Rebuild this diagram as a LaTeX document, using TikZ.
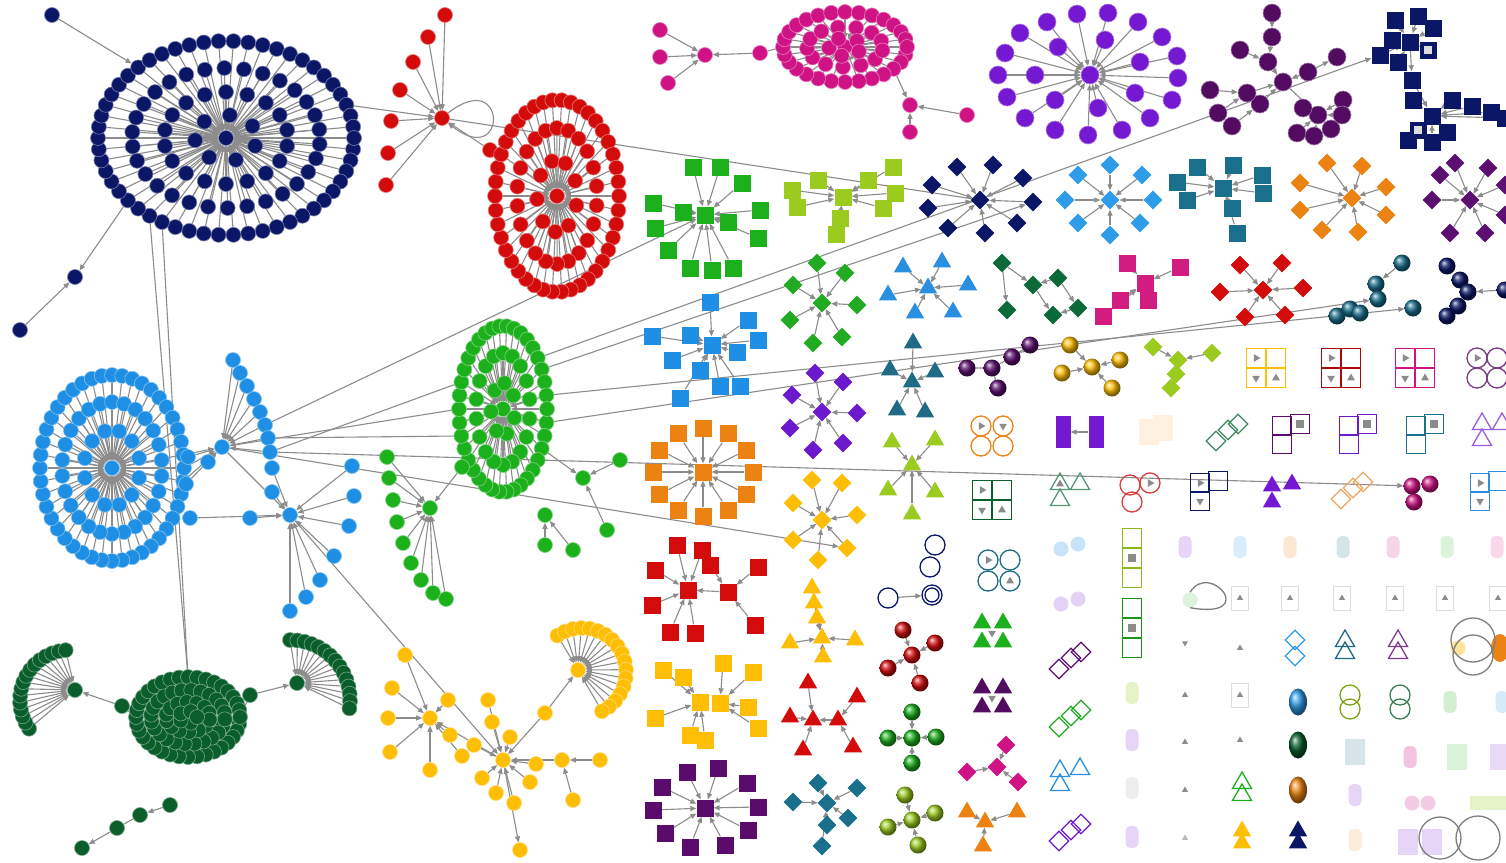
\documentclass[tikz,border=0pt]{standalone}
\usetikzlibrary{arrows.meta,shapes.geometric}
\pgfdeclarelayer{bg}
\pgfsetlayers{bg,main}
\definecolor{ceg}{HTML}{8C8C8C}
\definecolor{cnv}{HTML}{0B1667}
\definecolor{crd}{HTML}{D40B0B}
\definecolor{cmg}{HTML}{CF1385}
\definecolor{cpu}{HTML}{7418D2}
\definecolor{cdp}{HTML}{520B60}
\definecolor{clb}{HTML}{1E8FE4}
\definecolor{cgr}{HTML}{1CB01C}
\definecolor{cdg}{HTML}{0A5E2C}
\definecolor{cyl}{HTML}{FFBE06}
\definecolor{clm}{HTML}{9CCB20}
\definecolor{ctl}{HTML}{1A6F8C}
\definecolor{cog}{HTML}{EB8212}
\definecolor{cpd}{HTML}{5C0F70}
\definecolor{cbd}{HTML}{2E9CE8}
\definecolor{cgd}{HTML}{22AA22}
\definecolor{cdgd}{HTML}{0C6A3A}
\definecolor{cms}{HTML}{D21C80}
\definecolor{cps}{HTML}{5A0B6C}
\definecolor{cbt}{HTML}{2A8FE0}
\definecolor{cdt}{HTML}{1F6A85}
\definecolor{cpud}{HTML}{6A1ACC}
\tikzset{
  ed/.style={draw=ceg, line width=1.1pt, -{Triangle[length=6pt,width=5pt]}},
  ln/.style={draw=ceg, line width=1.1pt},
  cdot/.style={circle, fill=#1, draw=#1!55!white, line width=0.6pt, inner sep=0pt, minimum size=15pt},
  fdot/.style={circle, fill=#1, inner sep=0pt, minimum size=15pt},
  sqn/.style={rectangle, fill=#1, inner sep=0pt, minimum size=17pt},
  dmd/.style={diamond, fill=#1, inner sep=0pt, minimum size=19pt},
  trn/.style={regular polygon, regular polygon sides=3, fill=#1, inner sep=0pt, minimum size=21pt},
  bal/.style={circle, ball color=#1, inner sep=0pt, minimum size=17pt},
  osq/.style={rectangle, draw=#1, line width=1.3pt, inner sep=0pt, minimum size=19pt},
  ocir/.style={circle, draw=#1, line width=1.3pt, inner sep=0pt, minimum size=20pt},
  odmd/.style={diamond, draw=#1, line width=1.3pt, inner sep=0pt, minimum size=20pt},
  otri/.style={regular polygon, regular polygon sides=3, draw=#1, line width=1.3pt, inner sep=0pt, minimum size=22pt},
  gtri/.style={regular polygon, regular polygon sides=3, fill=ceg, inner sep=0pt, minimum size=9pt},
  gsq/.style={rectangle, fill=ceg, inner sep=0pt, minimum size=8pt},
  cap/.style={rectangle, rounded corners=5pt, fill=#1, inner sep=0pt, minimum width=13pt, minimum height=22pt},
  bcap/.style={ellipse, ball color=#1, inner sep=0pt, minimum width=18pt, minimum height=27pt},
  fbox/.style={rectangle, draw=#1, line width=0.6pt, inner sep=0pt, minimum width=17pt, minimum height=24pt},
  fsq/.style={rectangle, fill=#1, inner sep=0pt, minimum width=20pt, minimum height=26pt},
  loopc/.style={draw=ceg!90!black, line width=1.3pt},
  bigdot/.style={cdot=#1, minimum size=18pt},
}
\gdef\edgelist{}
\newcommand\addedge[2]{\xdef\edgelist{\unexpanded\expandafter{\edgelist}\noexpand\draw[ed] (#1) -- (#2);}}
\newcommand\bgdraw[1]{\xdef\edgelist{\unexpanded\expandafter{\edgelist}\unexpanded{#1}}}
\newcommand\ringof[8]{%
  \foreach \k in {1,...,#5}{%
    \path (#1) ++({#6*cos(360/#5*\k+#8)},{#7*sin(360/#5*\k+#8)}) node[#3=#4] (#1#2\k) {};
    \addedge{#1#2\k}{#1}%
  }}
\newcommand\leaves[4]{%
  \foreach \a/\b [count=\k] in {#4}{%
    \node[#2=#3] (#1-\k) at (\a,\b) {};
    \addedge{#1-\k}{#1}%
  }}
\newcommand\groupof[6]{%
  \foreach \dx/\dy [count=\k] in {#6}{%
    \node[#4=#5] (#1\k) at ({#2+(\dx)},{#3+(\dy)}) {};}}
\newcommand\gridsq[4]{%
  \groupof{#1}{#2}{#3}{osq}{#4}{-10/-10,10/-10,-10/10,10/10}%
  \node[gtri,rotate=-90] at (#11) {};\node[gtri,rotate=180] at (#13) {};\node[gtri] at (#14) {};}
\begin{document}
\begin{tikzpicture}[x=1pt,y=-1pt]
\useasboundingbox (0,0) rectangle (1506,862);

% ===== navy big cluster
\node[cdot=cnv] (nv) at (226,138) {};
\ringof{nv}{a}{cdot}{cnv}{54}{128}{97}{0}
\ringof{nv}{b}{cdot}{cnv}{30}{94}{70}{5}
\ringof{nv}{c}{cdot}{cnv}{18}{62}{46}{10}
\ringof{nv}{d}{cdot}{cnv}{7}{31}{23}{20}
\node[cdot=cnv] (nv0) at (52,15) {};
\node[cdot=cnv] (nv1) at (75,277) {};
\node[cdot=cnv] (nv2) at (20,330) {};

% ===== red star
\node[cdot=crd] (rs) at (442,118) {};
\leaves{rs}{cdot}{crd}{445/15,428/37,413/62,400/90,391/121,388/153,386/185,490/150}
\draw[ed] (rs.40) .. controls (508,66) and (508,170) .. (rs.-40);

% ===== red big
\node[cdot=crd] (rb) at (557,196) {};
\ringof{rb}{a}{cdot}{crd}{42}{62}{96}{0}
\ringof{rb}{b}{cdot}{crd}{22}{40}{68}{8}
\ringof{rb}{c}{cdot}{crd}{9}{20}{36}{15}

% ===== magenta
\node[cdot=cmg] (mg) at (845,47) {};
\ringof{mg}{a}{cdot}{cmg}{28}{62}{35}{0}
\ringof{mg}{b}{cdot}{cmg}{13}{38}{20}{10}
\ringof{mg}{c}{cdot}{cmg}{5}{16}{9}{30}
\node[cdot=cmg] (mg1) at (760,53) {};
\node[cdot=cmg] (mg2) at (705,55) {};
\leaves{mg2}{cdot}{cmg}{660/30,660/57,668/83}
\node[cdot=cmg] (mg3) at (910,105) {};
\node[cdot=cmg] (mg4) at (967,115) {};
\node[cdot=cmg] (mg5) at (910,132) {};
\bgdraw{\draw[ln] (mga14) -- (mg1); \draw[ed] (mg1) -- (mg2);
\draw[ed] (mga3) -- (mg3); \draw[ed] (mg4) -- (mg3); \draw[ed] (mg5) -- (mg3);}

% ===== purple
\node[bigdot=cpu] (pu) at (1090,75) {};
\leaves{pu}{bigdot}{cpu}{1047/22,1077/14,1108/13,1138/22,1162/37,1177/56,1178/78,1172/100,1150/118,1122/130,1088/135,1055/130,1025/118,1007/97,998/75,1005/53,1020/33,1058/47,1105/40,1140/62,1035/75,1135/93,1055/100,1098/108}

% ===== dark purple tree
\node[bigdot=cdp] (dp) at (1283,82) {};
\leaves{dp}{bigdot}{cdp}{1268/62,1308/72,1260/104,1247/93}
\node[bigdot=cdp] (dpx1) at (1272,13) {};
\node[bigdot=cdp] (dpx2) at (1272,37) {};
\node[bigdot=cdp] (dpx3) at (1240,50) {};
\node[bigdot=cdp] (dpx4) at (1337,57) {};
\node[bigdot=cdp] (dpx5) at (1210,90) {};
\node[bigdot=cdp] (dpx6) at (1218,113) {};
\node[bigdot=cdp] (dpx7) at (1232,126) {};
\node[bigdot=cdp] (dpB) at (1318,115) {};
\leaves{dpB}{bigdot}{cdp}{1343/100,1342/115,1331/129,1297/133,1314/136,1303/108}
\bgdraw{\draw[ed] (dpx1) -- (dpx2); \draw[ed] (dpx2) -- (dp-1); \draw[ed] (dpx3) -- (dp-1);
\draw[ed] (dp-2) -- (dpx4); \draw[ed] (dpx5) -- (dp-4); \draw[ed] (dpx6) -- (dp-4);
\draw[ed] (dpx7) -- (dp-3); \draw[ed] (dp) -- (dpB);}

% ===== navy squares
\node[sqn=cnv] (nsA) at (1410,42) {};
\leaves{nsA}{sqn}{cnv}{1395/20,1418/16,1433/28,1392/40,1380/55,1398/62,1428/50}
\node[sqn=cnv] (nsM) at (1412,80) {};
\node[sqn=cnv] (nsB) at (1432,116) {};
\leaves{nsB}{sqn}{cnv}{1413/100,1452/100,1472/106,1491/112,1505/118,1418/130,1447/132,1408/140,1432/142}
\node[gsq,fill=white!70!ceg] at (nsA-7) {};
\node[gsq,fill=white!70!ceg] at (nsB-6) {};
\bgdraw{\draw[ed] (nsA) -- (nsM); \draw[ed] (nsM) -- (nsB);}

% ===== row 2
\node[sqn=cgr] (gs) at (705,215) {};
\leaves{gs}{sqn}{cgr}{693/167,720/167,742/183,760/210,758/238,733/268,712/270,690/268,668/250,655/228,653/203,683/212,728/222}
\node[sqn=clm] (ls) at (843,197) {};
\leaves{ls}{sqn}{clm}{792/190,797/207,818/180,840/218,836/234,868/180,893/167,895/193,883/208}
\node[dmd=cnv] (nd) at (980,200) {};
\leaves{nd}{dmd}{cnv}{957/167,993/165,1023/178,1033/202,1017/223,985/233,948/228,928/208,932/185}
\node[dmd=cbd] (bd) at (1110,200) {};
\leaves{bd}{dmd}{cbd}{1110/165,1142/175,1153/200,1140/223,1110/235,1078/223,1065/200,1078/175}
\node[sqn=ctl] (tq) at (1223,188) {};
\leaves{tq}{sqn}{ctl}{1197/167,1177/182,1187/200,1233/165,1262/175,1263/193,1232/208,1237/233}
\node[dmd=cog] (od) at (1352,198) {};
\leaves{od}{dmd}{cog}{1327/163,1362/166,1386/187,1386/215,1358/232,1322/230,1300/210,1300/183}
\node[dmd=cpd] (pdd) at (1470,200) {};
\leaves{pdd}{dmd}{cpd}{1455/163,1488/168,1505/185,1505/215,1485/233,1450/233,1432/200,1440/175}

% ===== row 3
\node[sqn=clb] (bq) at (712,345) {};
\leaves{bq}{sqn}{clb}{710/302,748/320,652/336,690/335,737/352,758/340,672/360,700/370,720/386,740/386,680/398}
\node[dmd=cgd] (gd) at (822,303) {};
\leaves{gd}{dmd}{cgd}{817/263,845/273,857/305,842/337,813/343,790/320,793/285}
\node[trn=cbt] (bt) at (928,288) {};
\leaves{bt}{trn}{cbt}{903/267,942/262,968/285,953/312,915/313,888/295}
\node[dmd=cdgd] (dgd1) at (1002,263) {};
\node[dmd=cdgd] (dgd2) at (1007,310) {};
\node[dmd=cdgd] (dgd3) at (1033,285) {};
\node[dmd=cdgd] (dgd4) at (1058,278) {};
\node[dmd=cdgd] (dgd5) at (1053,315) {};
\node[dmd=cdgd] (dgd6) at (1078,308) {};
\draw[ed] (dgd1) -- (dgd2); \draw[ed] (dgd1) -- (dgd3); \draw[ed] (dgd3) -- (dgd5);
\draw[ed] (dgd4) -- (dgd3); \draw[ed] (dgd4) -- (dgd6); \draw[ed] (dgd6) -- (dgd5);
\node[sqn=cms] (ms) at (1145,283) {};
\leaves{ms}{sqn}{cms}{1127/263,1180/267,1148/300,1120/300,1103/316}
\node[dmd=crd] (rdd) at (1263,290) {};
\leaves{rdd}{dmd}{crd}{1240/265,1282/263,1303/288,1285/315,1245/317,1220/292}
\node[bal=ctl] (tsp1) at (1402,263) {};
\node[bal=ctl] (tsp2) at (1376,284) {};
\node[bal=ctl] (tsp3) at (1378,299) {};
\node[bal=ctl] (tsp4) at (1413,308) {};
\node[bal=ctl] (tsp5) at (1337,316) {};
\node[bal=ctl] (tsp6) at (1350,309) {};
\node[bal=ctl] (tsp7) at (1360,313) {};
\bgdraw{\draw[ed] (tsp1) -- (tsp2);}
\node[bal=cnv] (nsp1) at (1447,266) {};
\node[bal=cnv] (nsp2) at (1460,280) {};
\node[bal=cnv] (nsp3) at (1468,292) {};
\node[bal=cnv] (nsp4) at (1458,306) {};
\node[bal=cnv] (nsp5) at (1447,316) {};
\node[bal=cnv] (nsp6) at (1505,290) {};
\bgdraw{\draw[ed] (nsp6) -- (nsp3);}

% ===== row 4
\node[trn=cdt] (dtt) at (912,382) {};
\leaves{dtt}{trn}{cdt}{913/343,890/370,935/372,897/410,925/412}
\node[dmd=cpud] (pud) at (822,412) {};
\leaves{pud}{dmd}{cpud}{815/373,843/382,857/413,843/443,813/450,790/428,792/395}
\node[bal=cpd] (ps1) at (967,368) {};
\node[bal=cpd] (ps2) at (992,368) {};
\node[bal=cpd] (ps3) at (1012,357) {};
\node[bal=cpd] (ps4) at (1030,345) {};
\node[bal=cpd] (ps5) at (998,388) {};
\bgdraw{\draw[ln] (ps1) -- (ps2) -- (ps3) -- (ps4); \draw[ln] (ps2) -- (ps5);}
\node[bal=cyl] (ys) at (1092,367) {};
\leaves{ys}{bal}{cyl}{1070/345,1062/373,1120/360,1112/388}
\node[dmd=clm] (ld1) at (1153,347) {};
\node[dmd=clm] (ld2) at (1178,360) {};
\node[dmd=clm] (ld3) at (1212,353) {};
\node[dmd=clm] (ld4) at (1176,374) {};
\node[dmd=clm] (ld5) at (1171,388) {};
\bgdraw{\draw[ed] (ld1) -- (ld2); \draw[ed] (ld3) -- (ld2); \draw[ln] (ld2) -- (ld4) -- (ld5);}
\gridsq{gY}{1266}{368}{cyl}
\gridsq{gR}{1341}{368}{crd!80!black}
\gridsq{gM}{1415}{368}{cmg}
\groupof{gC}{1487}{368}{ocir}{cdp!80}{-10/-10,10/-10,-10/10,10/10}
\node[gtri,rotate=-90] at (gC1) {};

% ===== row 5
\groupof{oc}{992}{435}{ocir}{cog}{-11/-9,11/-9,-11/11,11/11}
\node[gtri,rotate=-90] at (oc1) {};\node[gtri,rotate=180] at (oc2) {};
\node[rectangle, fill=cpu, inner sep=0pt, minimum width=15pt, minimum height=32pt] (pr1) at (1063,432) {};
\node[rectangle, fill=cpu, inner sep=0pt, minimum width=15pt, minimum height=32pt] (pr2) at (1096,432) {};
\draw[ed] (pr2) -- (pr1);
\groupof{bgx}{1155}{432}{fsq}{orange!12}{-6/0,8/-4}
\groupof{gdo}{1225}{432}{odmd}{cdgd!80}{-9/9,3/-2,13/-8}
\groupof{pqa}{1290}{433}{osq}{cps}{-8/-7,10/-9,-8/11}
\node[gsq] at (pqa2) {};
\groupof{pqb}{1357}{433}{osq}{cpud}{-8/-7,10/-9,-8/11}
\node[gsq] at (pqb2) {};
\groupof{pqc}{1424}{433}{osq}{ctl}{-8/-7,10/-9,-8/11}
\node[gsq] at (pqc2) {};
\groupof{ptr}{1490}{430}{otri}{cpud!70}{-8/-6,12/-6,-8/10}

% ===== row 6
\gridsq{gG}{992}{500}{cdg}
\groupof{gto}{1068}{490}{otri}{cdgd!70}{-8/-6,12/-6,-8/10}
\node[gtri] at (gto1) {};
\groupof{rco}{1138}{490}{ocir}{crd!80}{-8/-5,12/-7,-6/12}
\node[gtri,rotate=-90] at (rco2) {};
\groupof{nqo}{1208}{490}{osq}{cnv}{-8/-7,10/-9,-8/11}
\node[gtri,rotate=-90] at (nqo1) {};\node[gtri,rotate=180] at (nqo3) {};
\groupof{ptf}{1280}{490}{trn}{cpu}{-8/-4,12/-6,-8/12}
\groupof{tdo}{1350}{490}{odmd}{orange!60!brown!70}{-9/9,3/-2,13/-8}
\groupof{pk}{1420}{490}{bal}{cmg}{-8/-4,10/-6,-6/12}
\groupof{bqo}{1488}{490}{osq}{cbt}{-8/-7,10/-9,-8/11}
\node[gtri,rotate=-90] at (bqo1) {};\node[gtri,rotate=180] at (bqo3) {};

% ===== lower middle small clusters
\node[ocir=cnv] (nci1) at (935,545) {};
\node[ocir=cnv] (nci2) at (930,567) {};
\node[ocir=cnv] (nci3) at (932,595) {};
\node[ocir=cnv] (nci4) at (888,598) {};
\node[ocir=cnv,minimum size=14pt] at (nci3) {};
\draw[ed] (nci4) -- (nci3);
\groupof{tco}{999}{570}{ocir}{cdt}{-11/-10,11/-10,-11/11,11/11}
\node[gtri,rotate=-90] at (tco1) {};\node[gtri] at (tco4) {};
\groupof{gtf}{992}{632}{trn}{cgr}{-10/-9,11/-9,-10/10,11/10}
\node[gtri,rotate=180] at (992,633) {};
\groupof{ptd}{992}{697}{trn}{cdp}{-10/-9,11/-9,-10/10,11/10}
\node[gtri,rotate=180] at (992,698) {};
\node[dmd=cmg] (mdm) at (997,767) {};
\leaves{mdm}{dmd}{cmg}{1006/745,967/772,1018/782}
\node[trn=cog] (otr) at (985,822) {};
\leaves{otr}{trn}{cog}{967/812,1017/812,983/846}
\node[bal=crd] (rsp) at (912,655) {};
\leaves{rsp}{bal}{crd}{903/630,935/643,888/668,920/683}
\node[bal=cgr] (gsp) at (912,738) {};
\leaves{gsp}{bal}{cgr}{912/712,888/738,936/737,912/763}
\node[bal=clm] (lsp) at (912,820) {};
\leaves{lsp}{bal}{clm}{905/795,935/813,888/827,918/845}

% red squares
\node[sqn=crd] (rq1) at (688,590) {};
\leaves{rq1}{sqn}{crd}{677/545,655/570,652/605,670/632,695/633,702/550}
\node[sqn=crd] (rq2) at (728,592) {};
\leaves{rq2}{sqn}{crd}{710/565,758/567,755/625}
\bgdraw{\draw[ed] (rq2) -- (rq1);}
% yellow triangles
\node[trn=cyl] (ytr) at (822,638) {};
\leaves{ytr}{trn}{cyl}{812/588,814/603,817/618,790/643,855/640,823/657}
% yellow squares
\node[sqn=cyl] (yq1) at (700,702) {};
\leaves{yq1}{sqn}{cyl}{663/670,683/677,655/718,690/735,705/740}
\node[sqn=cyl] (yq2) at (720,703) {};
\leaves{yq2}{sqn}{cyl}{723/663,753/672,748/707,758/728}
% red triangles
\node[trn=crd] (rt1) at (813,720) {};
\leaves{rt1}{trn}{crd}{808/683,790/717,803/750}
\node[trn=crd] (rt2) at (838,720) {};
\leaves{rt2}{trn}{crd}{857/697,853/747}
\bgdraw{\draw[ed] (rt2) -- (rt1);}
% purple squares
\node[sqn=cps] (psq) at (705,808) {};
\leaves{psq}{sqn}{cps}{687/772,718/768,747/783,758/807,748/830,725/845,690/847,665/833,653/810,662/787}
% teal diamonds
\node[dmd=ctl] (tdm) at (827,803) {};
\leaves{tdm}{dmd}{ctl}{818/783,857/788,793/802,848/818,827/825,822/846}
% orange squares
\node[sqn=cog] (oq) at (703,472) {};
\ringof{oq}{-}{sqn}{cog}{12}{50}{44}{0}
% yellow diamonds
\node[dmd=cyl] (yd) at (822,520) {};
\leaves{yd}{dmd}{cyl}{793/503,812/480,842/483,857/515,847/548,818/560,793/540}
% lime triangles
\node[trn=clm] (ltr) at (912,465) {};
\leaves{ltr}{trn}{clm}{892/442,935/440,888/490,935/492,912/514}

% ===== faded right-bottom area
\groupof{pbc}{1068}{547}{fdot}{clb!25}{-7/2,10/-3}
\groupof{ygr}{1132}{558}{osq}{clm!90!black}{0/-20,0/0,0/20}
\node[gsq] at (ygr2) {};
\foreach \xx/\cc [count=\k] in {1185/cpu!18,1240/cbd!18,1290/cog!18,1343/ctl!18,1393/cmg!18,1447/cgr!16,1497/cmg!16}{\node[cap=\cc] (fa\k) at (\xx,547) {};}
\groupof{vc}{1068}{602}{fdot}{cpu!20}{-7/2,10/-3}
\groupof{ggr}{1132}{628}{osq}{cgr!85!black}{0/-20,0/0,0/20}
\node[gsq] at (ggr2) {};
\node[fdot=cgr!15] (flg) at (1190,600) {};
\draw[loopc] (flg.north) .. controls (1210,560) and (1260,620) .. (flg.south);
\foreach \xx [count=\k] in {1240,1290,1342,1395,1445,1498}{\node[fbox=ceg!30] (fb\k) at (\xx,598) {}; \node[gtri,minimum size=7pt] at (\xx,598) {};}
\node[gtri,rotate=180,minimum size=7pt] (ft1) at (1185,643) {};
\node[gtri,minimum size=7pt] (ft2) at (1240,648) {};
\groupof{bdo}{1295}{648}{odmd}{cbd}{0/-8,0/8}
\groupof{tto}{1345}{648}{otri}{cdt}{0/-7,0/5}
\groupof{pto}{1398}{648}{otri}{cpd!80}{0/-7,0/5}
\node[fdot=cyl!40] (yfl) at (1458,648) {};
\node[ellipse, fill=cog, inner sep=0pt, minimum width=18pt, minimum height=28pt] (orc) at (1500,648) {};
\draw[loopc] (1473,640) circle (22);
\draw[loopc] (1473,655) circle (20);
\groupof{pdo}{1068}{660}{odmd}{cpd}{-9/9,3/-2,13/-8}
\groupof{gdb}{1068}{718}{odmd}{cgd}{-9/9,3/-2,13/-8}
\node[cap=clm!25] (fb2a) at (1132,693) {};
\node[gtri,minimum size=7pt] (ft3) at (1185,695) {};
\node[fbox=ceg!30] (fbx) at (1240,695) {};\node[gtri,minimum size=7pt] at (1240,695) {};
\node[bcap=cbd] (bcp1) at (1298,702) {};
\groupof{ygc}{1350}{702}{ocir}{clm!80!black}{0/-7,0/7}
\groupof{dtc}{1400}{702}{ocir}{cdg!80}{0/-7,0/7}
\node[cap=cgr!20] (fa8) at (1450,702) {};
\node[cap=cbd!20] (fa9) at (1502,702) {};
\groupof{bto}{1068}{775}{otri}{cbt}{-8/-4,12/-6,-8/10}
\node[cap=cpu!18] (fa10) at (1132,740) {};
\node[gtri,minimum size=7pt] (ft4) at (1185,742) {};
\node[gtri,minimum size=7pt] (ft5) at (1240,740) {};
\node[bcap=cdg] (bcp2) at (1298,745) {};
\node[fsq=ctl!18] (fa11) at (1355,752) {};
\node[cap=cmg!25] (fa12) at (1410,757) {};
\node[fsq=cgr!16] (fa13) at (1457,757) {};
\node[fsq=cpu!16] (fa14) at (1500,757) {};
\node[cap=ceg!15] (fa15) at (1132,788) {};
\node[gtri,minimum size=7pt] (ft6) at (1185,790) {};
\groupof{gtb}{1242}{790}{otri}{cgr}{0/-7,0/5}
\node[bcap=cog] (bcp3) at (1298,790) {};
\node[cap=cpu!18] (fa16) at (1355,795) {};
\node[fdot=cmg!22] (fa17) at (1412,803) {};
\node[fdot=cmg!22] (fa18) at (1428,803) {};
\node[rectangle,fill=clm!25,minimum width=40pt,minimum height=14pt,inner sep=0pt] (fa19) at (1490,803) {};
\groupof{pdb}{1068}{832}{odmd}{cpud}{-9/9,3/-2,13/-8}
\node[cap=cpu!18] (fa20) at (1132,837) {};
\node[gtri,minimum size=7pt,fill=ceg!60] (ft7) at (1185,838) {};
\groupof{yto}{1242}{838}{trn}{cyl}{0/-7,0/5}
\groupof{nto}{1298}{838}{trn}{cnv}{0/-7,0/5}
\node[cap=cog!15] (fa21) at (1355,840) {};
\node[fsq=cpu!18] (fa22) at (1408,842) {};
\node[fsq=cpu!18] (fa23) at (1432,842) {};
\draw[loopc] (1440,838) circle (21);
\draw[loopc] (1478,838) circle (22);

% ===== light blue clusters
\node[cdot=clb] (lbA) at (112,468) {};
\ringof{lbA}{a}{cdot}{clb}{44}{72}{93}{0}
\ringof{lbA}{b}{cdot}{clb}{26}{50}{66}{7}
\ringof{lbA}{c}{cdot}{clb}{12}{28}{38}{15}
\node[cdot=clb] (lbB) at (222,447) {};
\leaves{lbB}{cdot}{clb}{233/360,240/373,247/386,254/399,260/412,265/425,268/438,270/452,188/457,208/462,186/484}
\node[cdot=clb] (lbC) at (290,515) {};
\leaves{lbC}{cdot}{clb}{352/466,354/496,349/526,334/556,320/580,306/597,290/611,272/492,250/518,190/518,272/468}
\bgdraw{\draw[ed] (lbAa44) -- (lbB); \draw[ed] (lbAa1) -- (lbB); \draw[ed] (lbAa43) -- (lbB);
\draw[ed] (lbB) -- (lbC);}

% ===== green big cluster
\node[cdot=cgr] (gb) at (503,409) {};
\ringof{gb}{a}{cdot}{cgr}{38}{44}{83}{0}
\ringof{gb}{b}{cdot}{cgr}{18}{27}{56}{10}
\ringof{gb}{c}{cdot}{cgr}{7}{12}{26}{20}
\node[cdot=cgr] (gc) at (430,508) {};
\leaves{gc}{cdot}{cgr}{387/457,389/478,393/500,397/522,403/543,411/563,421/580,433/593,446/599,462/467}
\node[cdot=cgr] (gq) at (583,478) {};
\leaves{gq}{cdot}{cgr}{620/460,607/530}
\node[cdot=cgr] (gr1) at (545,515) {};
\node[cdot=cgr] (gr2) at (545,545) {};
\node[cdot=cgr] (gr3) at (573,550) {};
\bgdraw{\draw[ed] (gba3) -- (gq); \draw[ed] (gr2) -- (gr1); \draw[ed] (gr3) -- (gr1);}

% ===== dark green clusters
\node[cdot=cdg] (dg) at (188,717) {};
\ringof{dg}{a}{cdot}{cdg}{36}{52}{40}{0}
\ringof{dg}{b}{cdot}{cdg}{24}{37}{27}{5}
\ringof{dg}{c}{cdot}{cdg}{14}{22}{15}{10}
\ringof{dg}{d}{cdot}{cdg}{5}{9}{6}{0}
\node[cdot=cdg] (dgl1) at (122,706) {};
\node[cdot=cdg] (dgr1) at (250,695) {};
\node[cdot=cdg] (dgL) at (75,690) {};
\foreach \t [count=\k] in {145,153,...,265}{\node[cdot=cdg] (dgL-\k) at ({70+50*cos(\t)},{700+50*sin(\t)}) {};
  \addedge{dgL-\k}{dgL}}
\node[cdot=cdg] (dgR) at (297,683) {};
\foreach \t [count=\k] in {270,277,...,368}{\node[cdot=cdg] (dgR-\k) at ({290+60*cos(\t)},{700+60*sin(\t)}) {};
  \addedge{dgR-\k}{dgR}}
\node[cdot=cdg] (dgk1) at (82,848) {};
\node[cdot=cdg] (dgk2) at (117,828) {};
\node[cdot=cdg] (dgk3) at (140,815) {};
\node[cdot=cdg] (dgk4) at (170,805) {};
\bgdraw{\draw[ln] (dga18) -- (dgl1); \draw[ed] (dgl1) -- (dgL);
\draw[ln] (dga36) -- (dgr1); \draw[ed] (dgr1) -- (dgR);
\draw[ed] (dgk2) -- (dgk1); \draw[ln] (dgk3) -- (dgk2); \draw[ed] (dgk4) -- (dgk3);}

% ===== yellow cluster
\node[cdot=cyl] (yeL) at (430,718) {};
\leaves{yeL}{cdot}{cyl}{405/655,392/688,388/718,390/752,430/770,450/735,462/756,448/700}
\node[cdot=cyl] (yeC) at (503,760) {};
\leaves{yeC}{cdot}{cyl}{488/700,492/722,510/737,474/745,482/778,496/793,514/803,530/782,536/764,545/713}
\node[cdot=cyl] (yeR) at (562,760) {};
\leaves{yeR}{cdot}{cyl}{600/760,573/800}
\node[cdot=cyl] (yeB) at (520,850) {};
\node[cdot=cyl] (yeA) at (578,670) {};
\foreach \t [count=\k] in {236,247,...,423}{\node[cdot=cyl] (yeA-\k) at ({582+44*cos(\t)},{672+44*sin(\t)}) {};
  \addedge{yeA-\k}{yeA}}
\bgdraw{\draw[ed] (yeC) -- (yeB); \draw[ed] (yeR) -- (yeC); \draw[ed] (yeC-10) -- (yeA); \draw[ed] (yeC) -- (yeL);}

% ===== long connectors
\bgdraw{\draw[ed] (nv0) -- (nva34);
\draw[ed] (nva21) -- (nv1); \draw[ed] (nv2) -- (nv1);
\draw[ed] (nva51) -- (rs);
\draw[ln] (nva18) -- (dga27); \draw[ln] (nva19) -- (dga27);
\draw[ln] (rs) -- (nd);
\draw[ed] (lbB-6) -- (gs);
\draw[ln] (lbB) -- (gba19); \draw[ln] (lbB-7) -- (gba17); \draw[ln] (lbB-8) -- (gba21);
\draw[ed] (gba34) -- (nsA-5);
\draw[ed] (gba35) -- (nd-4);
\draw[ed] (gba1) -- (tsp3);
\draw[ed] (gba37) -- (tsp4);
\draw[ed] (lbB-8) -- (pk1);
\draw[ed] (lbB) -- (yd-5);
\draw[ed] (lbC) -- (yeC);}

\begin{pgfonlayer}{bg}
\fill[white] (0,0) rectangle (1506,862);
\edgelist
\end{pgfonlayer}
\end{tikzpicture}
\end{document}
